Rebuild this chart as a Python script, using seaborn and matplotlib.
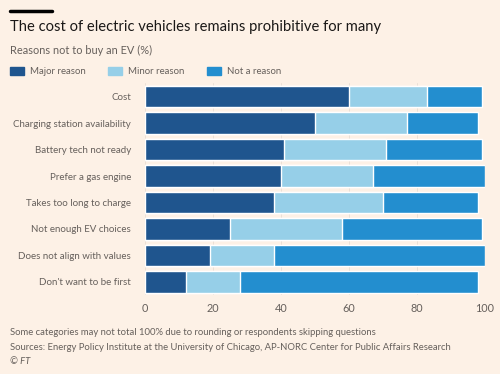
import pandas as pd
import numpy as np
import matplotlib.pyplot as plt
import seaborn as sns

# data (percent)
reasons = [
    "Cost",
    "Charging station availability",
    "Battery tech not ready",
    "Prefer a gas engine",
    "Takes too long to charge",
    "Not enough EV choices",
    "Does not align with values",
    "Don't want to be first",
]
major = [60, 50, 41, 40, 38, 25, 19, 12]
minor = [23, 27, 30, 27, 32, 33, 19, 16]
not_reason = [16, 21, 28, 33, 28, 41, 62, 70]

series_names = ["Major reason", "Minor reason", "Not a reason"]
x_ticks = [0, 20, 40, 60, 80, 100]

BG = "#fdf1e6"
C_MAJOR = "#1f558e"
C_MINOR = "#96cfe8"
C_NOT = "#238ecf"
GREY = "#66605c"

sns.set_theme(style="white")
plt.rcParams["font.family"] = ["Lato", "DejaVu Sans"]

df = pd.DataFrame({"reason": reasons, "major": major, "minor": minor, "not": not_reason})
df["cum_minor"] = df["major"] + df["minor"]
df["cum_all"] = df["cum_minor"] + df["not"]

fig = plt.figure(figsize=(5, 3.74), dpi=100, facecolor=BG)
ax = fig.add_axes([0.29, 0.211, 0.68, 0.566])
ax.set_facecolor(BG)

# stacked bars: draw totals first, then overlay shorter cumulative sums
for col, color in [("cum_all", C_NOT), ("cum_minor", C_MINOR), ("major", C_MAJOR)]:
    sns.barplot(data=df, x=col, y="reason", color=color, orient="h",
                width=0.82, saturation=1, ax=ax, zorder=3)

ax.set_xlim(0, 100)
ax.set_xticks(x_ticks)
ax.set_xlabel("")
ax.set_ylabel("")
ax.xaxis.grid(True, color="#ebe0d6", linewidth=0.7, zorder=0)
for s in ax.spines.values():
    s.set_visible(False)
ax.tick_params(axis="x", length=0, labelsize=7.8, labelcolor=GREY, pad=6)
ax.tick_params(axis="y", length=7, width=0.6, color="#d9cec4", labelsize=7.0,
               labelcolor=GREY, pad=3)

# header
fig.add_artist(plt.Line2D([0.02, 0.104], [0.970, 0.970], color="black", linewidth=2.5))
fig.text(0.02, 0.928, "The cost of electric vehicles remains prohibitive for many",
         fontsize=10.6, color="#1a1817", va="center", ha="left")
fig.text(0.02, 0.866, "Reasons not to buy an EV (%)", fontsize=7.9, color=GREY,
         va="center", ha="left")

# legend
for x0, name, color in zip([0.02, 0.216, 0.414], series_names, [C_MAJOR, C_MINOR, C_NOT]):
    fig.patches.append(plt.Rectangle((x0, 0.799), 0.028, 0.021, color=color,
                                     transform=fig.transFigure, figure=fig))
    fig.text(x0 + 0.04, 0.810, name, fontsize=6.9, color=GREY, va="center", ha="left")

# footer
fig.text(0.02, 0.112, "Some categories may not total 100% due to rounding or respondents skipping questions",
         fontsize=6.8, color=GREY, va="center")
fig.text(0.02, 0.072, "Sources: Energy Policy Institute at the University of Chicago, AP-NORC Center for Public Affairs Research",
         fontsize=6.8, color=GREY, va="center")
fig.text(0.02, 0.034, "© FT", fontsize=6.8, color=GREY, va="center", style="italic")

fig.savefig("out.png", dpi=100, facecolor=BG)
